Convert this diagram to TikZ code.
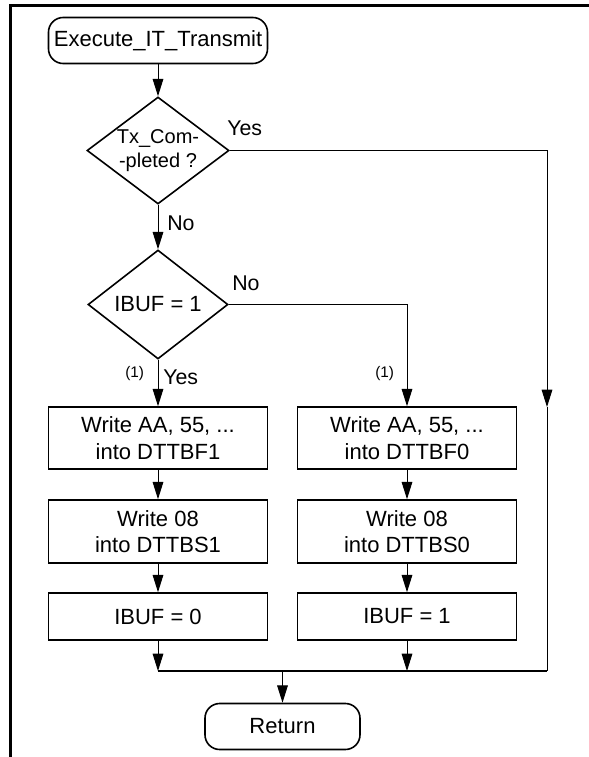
\documentclass[tikz,border=0pt]{standalone}
\usepackage{fontspec}
\setmainfont{Liberation Sans}
\usetikzlibrary{shapes.geometric,arrows.meta}

\begin{document}
\begin{tikzpicture}[x=0.75pt,y=0.75pt,yscale=-1,xscale=1,
  proc/.style={draw, line width=1.2pt, rectangle, minimum width=164.25pt, inner sep=0pt, align=center, font=\fontsize{16.5}{20}\selectfont},
  term/.style={draw, line width=1.2pt, rectangle, rounded corners=11pt, inner sep=0pt, minimum height=34.5pt, font=\fontsize{16.5}{20}\selectfont},
  decis/.style={draw, line width=1.2pt, diamond, aspect=1.33, inner sep=0pt, align=center, font=\fontsize{16.5}{20}\selectfont},
  conn/.style={line width=0.75pt},
  arr/.style={conn, -{Triangle[length=13pt,width=8pt]}},
  lbl/.style={anchor=base west, inner sep=0pt, font=\fontsize{16}{19}\selectfont},
  note/.style={anchor=base west, inner sep=0pt, font=\fontsize{11.5}{13}\selectfont}]
\useasboundingbox (0,0) rectangle (589,757);

%Straight Lines: frame
\draw [line width=2.25pt] (10.5,757) -- (10.5,5.5) -- (589,5.5) ;

%Shape: Terminal
\node [term, minimum width=164.25pt] (start) at (158,40.5) {Execute\_IT\_Transmit};
%Shape: Diamond
\node [decis, minimum width=106.5pt, minimum height=80.25pt, font=\fontsize{15}{18.5}\selectfont] (txdone) at (158,150.5) {Tx\_Com-\\-pleted ?};
%Shape: Diamond
\node [decis, minimum width=105pt, minimum height=81.75pt] (ibuf) at (158,304.5) {IBUF = 1};

%Shape: Rectangle
\node [proc, minimum height=46.5pt] (wbfone) at (158,438) {Write AA, 55, ...\\into DTTBF1};
%Shape: Rectangle
\node [proc, minimum height=47.25pt] (wbsone) at (158,531.5) {Write 08\\into DTTBS1};
%Shape: Rectangle
\node [proc, minimum height=35.25pt] (ibufzero) at (158,616.5) {IBUF = 0};
%Shape: Rectangle
\node [proc, minimum height=46.5pt] (wbfzero) at (407,438) {Write AA, 55, ...\\into DTTBF0};
%Shape: Rectangle
\node [proc, minimum height=47.25pt] (wbszero) at (407,531.5) {Write 08\\into DTTBS0};
%Shape: Rectangle
\node [proc, minimum height=35.25pt] (ibufone) at (407,616.5) {IBUF = 1};

%Shape: Terminal
\node [term, minimum width=116.25pt] (ret) at (282.5,726.5) {Return};

\coordinate (mergeL) at (158,671);
\coordinate (mergeR) at (407,671);
\coordinate (mergeC) at (282.5,671);
\coordinate (mergeE) at (547,671);
\coordinate (yesmid) at (547,407);

%Straight Lines
\draw [arr] (start) -- (txdone) ;
\draw [arr] (txdone) -- (ibuf) ;
\draw [arr] (ibuf) -- (wbfone) ;
\draw [arr] (ibuf.east) -| (wbfzero.north) ;
\draw [arr] (wbfone) -- (wbsone) ;
\draw [arr] (wbsone) -- (ibufzero) ;
\draw [arr] (wbfzero) -- (wbszero) ;
\draw [arr] (wbszero) -- (ibufone) ;
\draw [arr] (ibufzero) -- (mergeL) ;
\draw [arr] (ibufone) -- (mergeR) ;
\draw [arr] (txdone.east) -| (yesmid) ;
\draw [conn] (yesmid) -- (mergeE) ;
\draw [line width=1.2pt] (mergeL) -- (mergeE) ;
\draw [arr] (mergeC) -- (ret) ;

% Text Node
\node [lbl] (yesone) at (227,135) {Yes};
% Text Node
\node [lbl] (noone) at (167,230) {No};
% Text Node
\node [lbl] (notwo) at (232,290) {No};
% Text Node
\node [lbl] (yestwo) at (163,384) {Yes};
% Text Node
\node [note] (refleft) at (125,377) {(1)};
% Text Node
\node [note] (refright) at (375,377) {(1)};

\end{tikzpicture}
\end{document}
